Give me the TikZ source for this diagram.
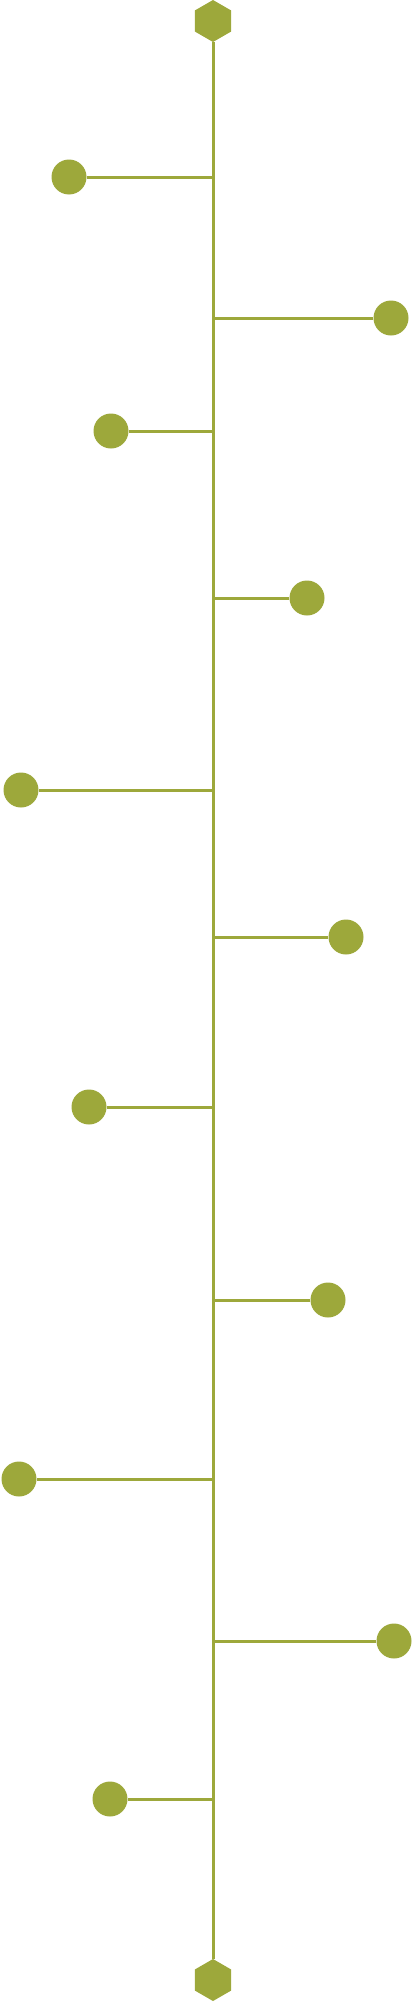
\documentclass[tikz,border=0pt]{standalone}
\usetikzlibrary{shapes.geometric}
\definecolor{leaf}{RGB}{157,168,59}
\begin{document}
\begin{tikzpicture}[x=1pt, y=-1pt,
    dot/.style={circle, fill=leaf, minimum size=35pt, inner sep=0pt},
    hex/.style={regular polygon, regular polygon sides=6, shape border rotate=30,
                fill=leaf, minimum size=42pt, inner sep=0pt},
    stem/.style={draw=leaf, line width=3pt}]
        \useasboundingbox (0,0) rectangle (412,2002);

        \node[hex] (top) at (213,21) {};
        \node[hex] (bottom) at (213,1980) {};

        \node[dot] (1) at (69,177) {};
        \node[dot] (2) at (391,318) {};
        \node[dot] (3) at (111,431) {};
        \node[dot] (4) at (307,598) {};
        \node[dot] (5) at (21,790) {};
        \node[dot] (6) at (346,937) {};
        \node[dot] (7) at (89,1107) {};
        \node[dot] (8) at (328,1300) {};
        \node[dot] (9) at (19,1479) {};
        \node[dot] (10) at (394,1641) {};
        \node[dot] (11) at (110,1799) {};

        \draw[stem] (top) -- (bottom);

        \draw[stem] (1) -- (1 -| top);
        \draw[stem] (2) -- (2 -| top);
        \draw[stem] (3) -- (3 -| top);
        \draw[stem] (4) -- (4 -| top);
        \draw[stem] (5) -- (5 -| top);
        \draw[stem] (6) -- (6 -| top);
        \draw[stem] (7) -- (7 -| top);
        \draw[stem] (8) -- (8 -| top);
        \draw[stem] (9) -- (9 -| top);
        \draw[stem] (10) -- (10 -| top);
        \draw[stem] (11) -- (11 -| top);
      \end{tikzpicture}
\end{document}
